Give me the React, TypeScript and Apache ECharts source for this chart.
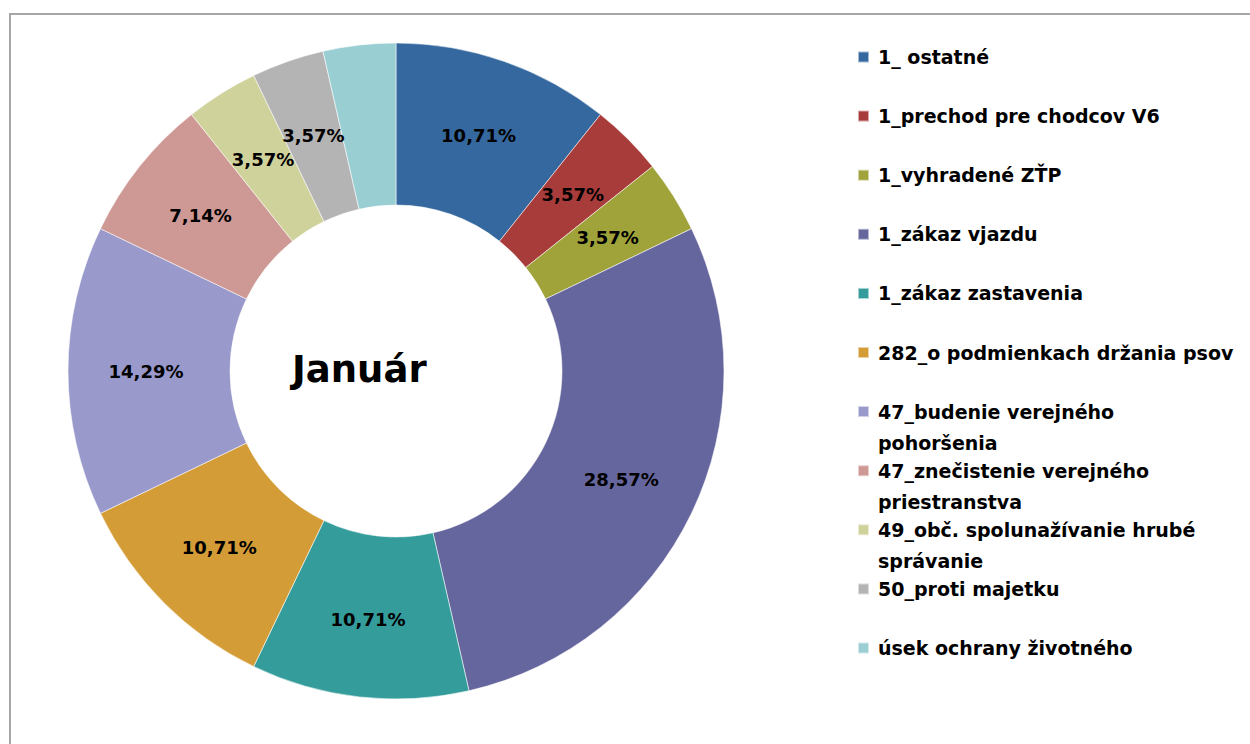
import React, { useEffect, useRef } from "react";
import * as echarts from "echarts";

const categories = [
  "1_ ostatné",
  "1_prechod pre chodcov V6",
  "1_vyhradené ZŤP",
  "1_zákaz vjazdu",
  "1_zákaz zastavenia",
  "282_o podmienkach držania psov",
  "47_budenie verejného pohoršenia",
  "47_znečistenie verejného priestranstva",
  "49_obč. spolunažívanie hrubé správanie",
  "50_proti majetku",
  "úsek ochrany životného",
];

const counts = [3, 1, 1, 8, 3, 3, 4, 2, 1, 1, 1];

// legend display lines (wrapped as in the original)
const legendLines: string[][] = [
  ["1_ ostatné"],
  ["1_prechod pre chodcov V6"],
  ["1_vyhradené ZŤP"],
  ["1_zákaz vjazdu"],
  ["1_zákaz zastavenia"],
  ["282_o podmienkach držania psov"],
  ["47_budenie verejného", "pohoršenia"],
  ["47_znečistenie verejného", "priestranstva"],
  ["49_obč. spolunažívanie hrubé", "správanie"],
  ["50_proti majetku"],
  ["úsek ochrany životného"],
];

const colors = [
  "#35689E",
  "#A83C3A",
  "#A0A23A",
  "#66669E",
  "#349C9B",
  "#D49C36",
  "#9999CC",
  "#CE9895",
  "#D0D29C",
  "#B4B4B4",
  "#99CED2",
];

const centerTitle = "Január";

const FONT = "'DejaVu Sans', sans-serif";
const LINE_H = 31;

export default function App() {
  const ref = useRef<HTMLDivElement>(null);

  useEffect(() => {
    if (!ref.current) return;
    const chart = echarts.init(ref.current, undefined, { renderer: "svg" });
    const total = counts.reduce((a, b) => a + b, 0);

    const legends = categories.map((name, i) => {
      const lines = legendLines[i];
      const display = lines.length > 1 ? ["", ...lines] : lines;
      const blockH = display.length * LINE_H;
      const iconCenter = 57 + i * 59.1;
      return {
        data: [name],
        left: 857,
        top: iconCenter - blockH / 2,
        padding: 0,
        itemWidth: 11,
        itemHeight: 11,
        icon: "rect",
        formatter: () => display.join("\n"),
        textStyle: {
          fontFamily: FONT,
          fontWeight: "bold",
          fontSize: 19,
          lineHeight: LINE_H,
          color: "#000",
          padding: [0, 0, 0, 4],
        },
      };
    });

    chart.setOption({
      animation: false,
      backgroundColor: "#fff",
      color: colors,
      title: {
        text: centerTitle,
        left: 292,
        top: 351,
        padding: 0,
        textStyle: {
          fontFamily: FONT,
          fontWeight: "bold",
          fontSize: 37,
          color: "#000",
        },
      },
      legend: legends,
      graphic: [
        {
          type: "rect",
          silent: true,
          z: -10,
          shape: { x: 10, y: 14, width: 1400, height: 900 },
          style: { fill: "none", stroke: "#a6a6a6", lineWidth: 2 },
        },
      ],
      series: [
        {
          type: "pie",
          center: [396, 371],
          radius: [166, 328],
          startAngle: 90,
          clockwise: true,
          avoidLabelOverlap: false,
          itemStyle: { borderColor: "rgba(255,255,255,0.55)", borderWidth: 1 },
          label: {
            show: true,
            position: "inside",
            formatter: (p: any) =>
              ((p.value / total) * 100).toFixed(2).replace(".", ",") + "%",
            fontFamily: FONT,
            fontWeight: "bold",
            fontSize: 18,
            color: "#000",
          },
          labelLine: { show: false },
          emphasis: { disabled: true },
          data: categories.map((name, i) => ({ name, value: counts[i] })),
        },
      ],
    });

    return () => chart.dispose();
  }, []);

  return (
    <div
      ref={ref}
      style={{ position: "fixed", left: 0, top: 0, width: 1250, height: 744, background: "#fff" }}
    />
  );
}
